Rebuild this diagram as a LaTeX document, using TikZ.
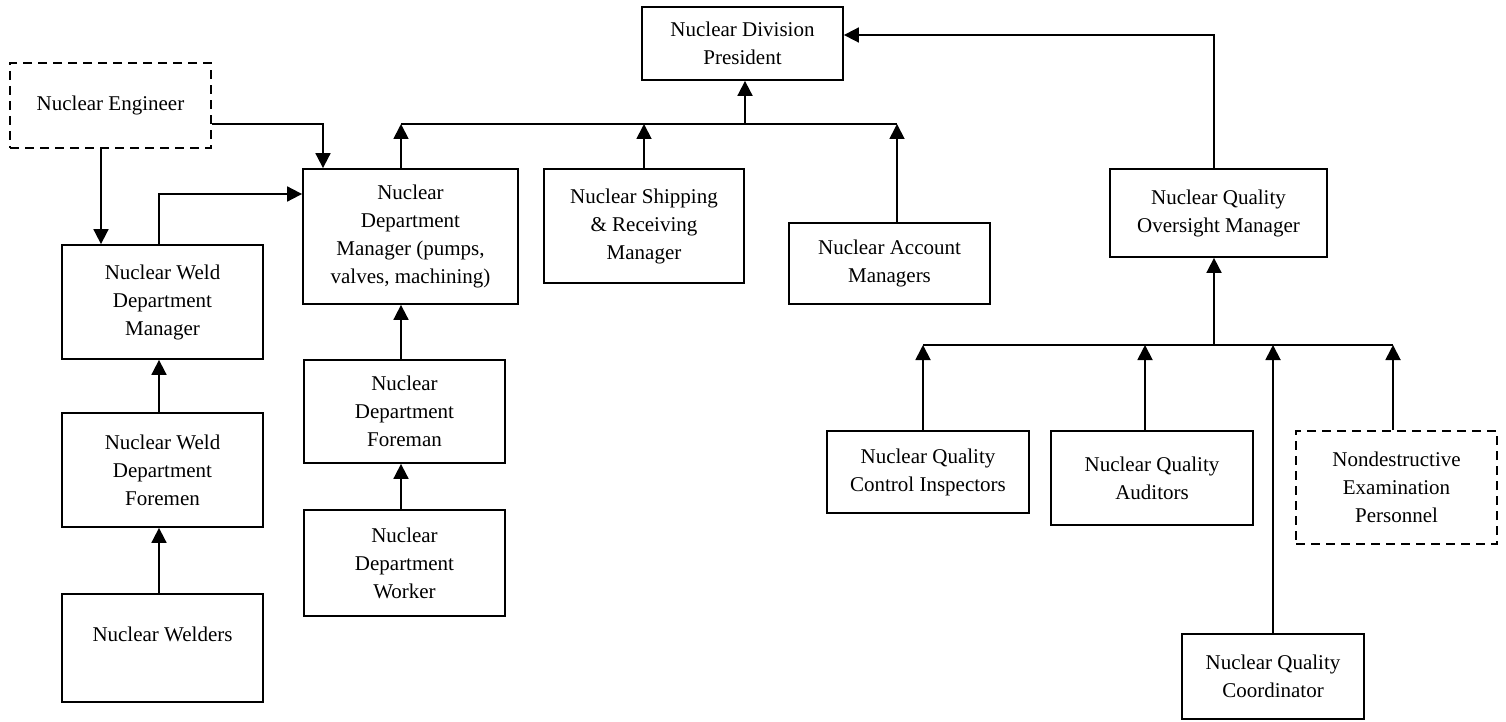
\documentclass[tikz,border=0pt]{standalone}
\usepackage{fontspec}
\setmainfont{Liberation Serif}
\usetikzlibrary{arrows.meta}

\begin{document}
\begin{tikzpicture}[x=1pt,y=-1pt,
  box/.style 2 args={draw, line width=1.8pt, align=center, inner sep=0pt,
    minimum width=#1pt, minimum height=#2pt, font=\fontsize{21}{28}\selectfont},
  dbox/.style 2 args={box={#1}{#2}, dash pattern=on 9pt off 6pt},
  link/.style={line width=1.8pt},
  arr/.style={link, -{Triangle[length=15pt,width=15pt]}}]
\useasboundingbox (0,0) rectangle (1506,722);

% left part
\node[dbox={201}{85}] (eng) at (110.5,105.5) {Nuclear Engineer};
\node[box={201}{114}] (weldmgr) at (162.5,302) {Nuclear Weld\\Department\\Manager};
\node[box={201}{114}] (weldfore) at (162.5,470) {Nuclear Weld\\Department\\Foremen};
\node[box={201}{108}] (welders) at (162.5,648) {Nuclear Welders\\\mbox{}};
\node[box={215}{135}] (deptmgr) at (410.5,236.5) {Nuclear\\Department\\Manager (pumps,\\valves, machining)};
\node[box={201}{103}] (deptfore) at (404.5,411.5) {Nuclear\\Department\\Foreman};
\node[box={201}{106}] (deptwork) at (404.5,563) {Nuclear\\Department\\Worker};

% top row
\node[box={201}{73}] (pres) at (742.5,43.5) {Nuclear Division\\President};
\node[box={200}{114}] (ship) at (644,226) {Nuclear Shipping\\\& Receiving\\Manager};
\node[box={201}{81}] (acct) at (889.5,263.5) {Nuclear Account\\Managers};

% quality
\node[box={217}{88}] (qom) at (1218.5,213) {Nuclear Quality\\Oversight Manager};
\node[box={202}{82}] (qci) at (928,472) {Nuclear Quality\\Control Inspectors};
\node[box={202}{94}] (aud) at (1152,478) {Nuclear Quality\\Auditors};
\node[dbox={201}{113}] (nde) at (1396.5,487.5) {Nondestructive\\Examination\\Personnel};
\node[box={182}{85}] (coord) at (1273,676.5) {Nuclear Quality\\Coordinator};

\coordinate (tl) at (401,124);
\coordinate (tm) at (745,124);
\coordinate (tr) at (897,124);
\coordinate (ein) at (323,124);
\coordinate (qup) at (1214,35);
\coordinate (bl) at (923,345);
\coordinate (br) at (1393,345);

\draw[arr] (eng.east |- ein) -- (ein) -- (deptmgr.north -| ein);
\draw[arr] (eng.south -| 101,0) -- (weldmgr.north -| 101,0);
\draw[arr] (weldmgr.north -| 159,0) |- (deptmgr.west |- 0,194);
\draw[arr] (weldfore.north -| 159,0) -- (weldmgr.south -| 159,0);
\draw[arr] (welders.north -| 159,0) -- (weldfore.south -| 159,0);
\draw[arr] (deptfore.north -| tl) -- (deptmgr.south -| tl);
\draw[arr] (deptwork.north -| tl) -- (deptfore.south -| tl);

\draw[link] (tl) -- (tr);
\draw[arr] (deptmgr.north -| tl) -- (tl);
\draw[arr] (ship.north) -- (ship.north |- tl);
\draw[arr] (acct.north -| tr) -- (tr);
\draw[arr] (tm) -- (pres.south -| tm);
\draw[arr] (qom.north -| qup) -- (qup) -- (pres.east |- qup);

\draw[link] (bl) -- (br);
\draw[arr] (bl -| qup) -- (qom.south -| qup);
\draw[arr] (qci.north -| bl) -- (bl);
\draw[arr] ([xshift=-7pt]aud.north) -- ([xshift=-7pt]aud.north |- bl);
\draw[arr] (coord.north) -- (coord.north |- bl);
\draw[arr] (nde.north -| br) -- (br);
\end{tikzpicture}
\end{document}
